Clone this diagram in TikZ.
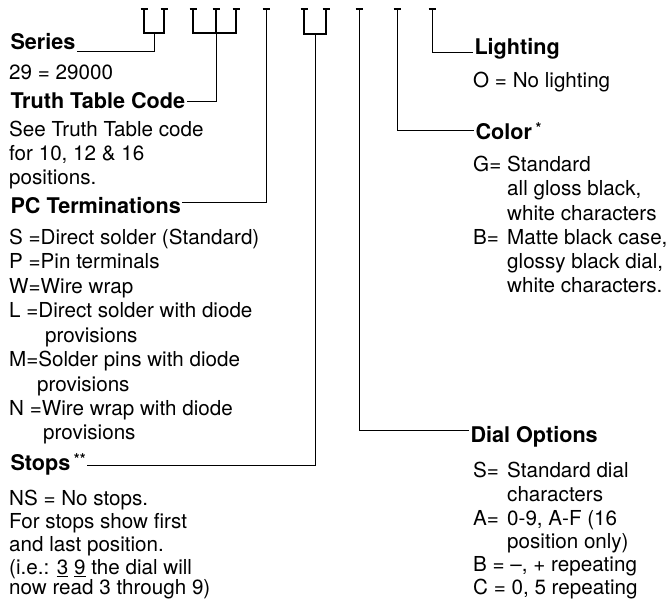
\documentclass[tikz,border=0pt]{standalone}
\usepackage{fontspec}
\setmainfont{TeX Gyre Heros}
\newcommand{\lbl}[1]{\makebox[34bp][l]{#1}}
\newcommand{\supstar}[1]{\raisebox{6bp}{\fontsize{15}{15}\selectfont\bfseries #1}}
\begin{document}
\begin{tikzpicture}[x=1bp,y=-1bp,
  txt/.style={anchor=base west, inner sep=0pt, font=\fontsize{20.7}{24}\selectfont},
  hd/.style={anchor=base west, inner sep=0pt, outer sep=1.5bp, font=\fontsize{21.7}{24}\selectfont\bfseries},
  lead/.style={line width=0.8bp},
  slot/.style={line width=1.3bp}]
\useasboundingbox (0,0) rectangle (671,599);

% slot tops
\foreach \n/\x in {t1/144,t2/164,t3/193,t4/216,t5/236,t6/266,t7/304,t8/326,t9/359,t10/397,t11/432}{
  \coordinate (\n) at (\x,9);
  \draw[slot] ([xshift=-3.5bp]\n) -- ([xshift=3.5bp]\n);
}

% ---------- left column ----------
\node[hd] (series) at (9,50) {Series};
\node[txt] (ser1) at (9,80) {29 = 29000};
\node[hd] (ttc) at (9,109) {Truth Table Code};
\node[txt] (tt1) at (9,137) {See Truth Table code};
\node[txt] (tt2) at (9,161) {for 10, 12 \& 16};
\node[txt] (tt3) at (9,185) {positions.};
\node[hd] (pc) at (9,213) {PC Terminations};
\node[txt] (pc1) at (9,244) {S =Direct solder (Standard)};
\node[txt] (pc2) at (9,268.5) {P =Pin terminals};
\node[txt] (pc3) at (9,293) {W=Wire wrap};
\node[txt] (pc4) at (9,317.5) {L =Direct solder with diode};
\node[txt] (pc5) at (45,342) {provisions};
\node[txt] (pc6) at (9,366.5) {M=Solder pins with diode};
\node[txt] (pc7) at (37,391) {provisions};
\node[txt] (pc8) at (9,415.5) {N =Wire wrap with diode};
\node[txt] (pc9) at (43,439) {provisions};
\node[hd] (stops) at (9,470) {Stops\,\supstar{**}};
\node[txt] (st1) at (9,505) {NS = No stops.};
\node[txt] (st2) at (9,528.5) {For stops show first};
\node[txt] (st3) at (9,551.5) {and last position.};
\node[txt] (st4) at (9,574) {(i.e.: \underline{3} \underline{9} the dial will};
\node[txt] (st5) at (9,594) {now read 3 through 9)};

% ---------- right column ----------
\node[hd] (light) at (473,55) {Lighting};
\node[txt] (li1) at (473,88) {O = No lighting};
\node[hd] (color) at (474,140) {Color\,\supstar{*}};
\node[txt] (co1) at (473,172) {\lbl{G=}Standard};
\node[txt] (co2) at (507,196) {all gloss black,};
\node[txt] (co3) at (507,220) {white characters};
\node[txt] (co4) at (473,244) {\lbl{B=}Matte black case,};
\node[txt] (co5) at (507,268) {glossy black dial,};
\node[txt] (co6) at (507,292) {white characters.};
\node[hd] (dial) at (469,442) {Dial Options};
\node[txt] (di1) at (473,477) {\lbl{S=}Standard dial};
\node[txt] (di2) at (507,501) {characters};
\node[txt] (di3) at (473,525) {\lbl{A=}0-9, A-F (16};
\node[txt] (di4) at (507,548) {position only)};
\node[txt] (di5) at (473,571) {B = --, + repeating};
\node[txt] (di6) at (473,594) {C = 0, 5 repeating};

% ---------- connectors ----------
% Series
\coordinate (sj) at (154,33);
\coordinate (sc) at (154,51);
\draw[slot] (t1) |- (sj) -| (t2);
\draw[lead] (sj) -- (sc) -- (series.base east |- sc);
% Truth table code
\coordinate (tj) at (216,33);
\coordinate (tc) at (216,101);
\draw[slot] (t3) |- (tj) -| (t5);
\draw[slot] (t4) -- (tj);
\draw[lead] (tj) -- (tc) -- (ttc.east |- tc);
% PC terminations
\coordinate (pcc) at (266,202);
\draw[lead] (t6) -- (pcc) -- (pc.east |- pcc);
% Stops
\coordinate (stj) at (315,34);
\coordinate (stc) at (315,465);
\draw[slot] (t7) |- (stj) -| (t8);
\draw[lead] (stj) -- (stc) -- (stops.east |- stc);
% Dial options
\coordinate (dc) at (359,430);
\draw[lead] (t9) -- (dc) -- (dial.west |- dc);
% Color
\coordinate (cc) at (397,130);
\draw[lead] (t10) -- (cc) -- (color.west |- cc);
% Lighting
\coordinate (lc) at (432,52);
\draw[lead] (t11) -- (lc) -- (light.west |- lc);
\end{tikzpicture}
\end{document}
